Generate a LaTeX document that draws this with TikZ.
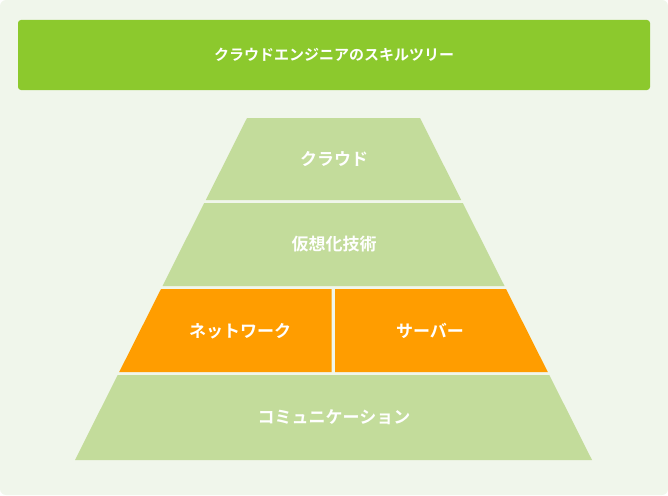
\documentclass[tikz,border=0pt]{standalone}
\usepackage{fontspec}
\setmainfont{Noto Sans CJK JP}[BoldFont={* Bold}]
\definecolor{bgc}{HTML}{F0F6EB}
\definecolor{titlec}{HTML}{8CC92D}
\definecolor{levelc}{HTML}{C3DC9B}
\definecolor{netc}{HTML}{FF9D00}
\tikzstyle{level} = [fill=levelc, draw=none]
\tikzstyle{hot} = [fill=netc, draw=none]
\tikzstyle{label} = [text=white, font=\bfseries\fontsize{17}{20}\selectfont]
\begin{document}
\begin{tikzpicture}[x=1pt,y=-1pt]
  \useasboundingbox (0,0) rectangle (668,495);
  \fill[bgc, rounded corners=6pt] (0,0) rectangle (668,495);

  % title bar
  \fill[titlec, rounded corners=3pt] (18,20) rectangle (650,90);
  \node[text=white, font=\bfseries\fontsize{15}{18}\selectfont] (title) at (334,55) {クラウドエンジニアのスキルツリー};

  % pyramid levels
  \fill[level] (247,118) -- (420,118) -- (461.2,200) -- (205.8,200) -- cycle;
  \fill[level] (204.2,203) -- (462.8,203) -- (504.5,286) -- (162.5,286) -- cycle;
  \fill[hot] (161,289) -- (331.5,289) -- (331.5,372) -- (119.2,372) -- cycle;
  \fill[hot] (335,289) -- (506,289) -- (547.8,372) -- (335,372) -- cycle;
  \fill[level] (117.7,375) -- (549.3,375) -- (592,460) -- (75,460) -- cycle;

  \node[label] (cloud) at (334,159) {クラウド};
  \node[label] (virt) at (334,244) {仮想化技術};
  \node[label] (net) at (240,331) {ネットワーク};
  \node[label] (server) at (430,331) {サーバー};
  \node[label] (comm) at (334,417) {コミュニケーション};
\end{tikzpicture}
\end{document}
